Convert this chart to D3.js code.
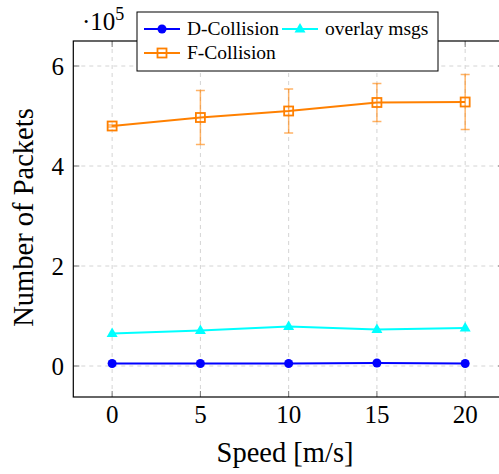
<!DOCTYPE html>
<html>
<head>
<meta charset="utf-8">
<script src="https://cdn.jsdelivr.net/npm/d3@7"></script>
<style>
  html, body { margin: 0; padding: 0; background: #fff; }
  svg { display: block; }
</style>
</head>
<body>
<svg id="chart" width="499" height="474"></svg>
<script>
// Speeds on the x axis
const speeds = [0, 5, 10, 15, 20];
// Packet counts per series
const dCollision = [5000, 5000, 5000, 6000, 5000];
const overlayMsgs = [65000, 71000, 79000, 73000, 76000];
const fCollision = [480000, 497000, 510000, 527000, 528000];
// Symmetric error (half-width) of the F-Collision measurements
const fCollisionErr = [2000, 54000, 44000, 38000, 55000];
// Axis ticks
const xTicks = [0, 5, 10, 15, 20];
const yTicks = [0, 200000, 400000, 600000];

const FONT = "'Liberation Serif', serif";
const svg = d3.select("#chart");
const margin = { left: 73.3, top: 41, bottom: 397, right: 504 };

const x = d3.scaleLinear().domain([-2.2, 22.2]).range([margin.left, margin.right]);
const y = d3.scaleLinear().domain([-62000, 650000]).range([margin.bottom, margin.top]);

// Grid
const grid = svg.append("g").attr("stroke", "#d4d4d4").attr("stroke-width", 1).attr("stroke-dasharray", "4,4");
grid.selectAll(".gx").data(xTicks).join("line")
  .attr("x1", d => x(d)).attr("x2", d => x(d))
  .attr("y1", margin.top).attr("y2", margin.bottom);
grid.selectAll(".gy").data(yTicks).join("line")
  .attr("y1", d => y(d)).attr("y2", d => y(d))
  .attr("x1", margin.left).attr("x2", margin.right);

// Inner tick marks on all four sides
const tickLen = 6;
const ticks = svg.append("g").attr("stroke", "#7a7a7a").attr("stroke-width", 1);
xTicks.forEach(t => {
  ticks.append("line").attr("x1", x(t)).attr("x2", x(t)).attr("y1", margin.bottom).attr("y2", margin.bottom - tickLen);
  ticks.append("line").attr("x1", x(t)).attr("x2", x(t)).attr("y1", margin.top).attr("y2", margin.top + tickLen);
});
yTicks.forEach(t => {
  ticks.append("line").attr("y1", y(t)).attr("y2", y(t)).attr("x1", margin.left).attr("x2", margin.left + tickLen);
  ticks.append("line").attr("y1", y(t)).attr("y2", y(t)).attr("x1", margin.right).attr("x2", margin.right - tickLen);
});

// Axes frame
svg.append("rect")
  .attr("x", margin.left).attr("y", margin.top)
  .attr("width", margin.right - margin.left).attr("height", margin.bottom - margin.top)
  .attr("fill", "none").attr("stroke", "#000").attr("stroke-width", 1.2);

// Tick labels
svg.append("g").selectAll("text").data(xTicks).join("text")
  .style("font-family", FONT)
  .attr("x", d => x(d)).attr("y", 423)
  .attr("text-anchor", "middle").attr("font-size", 25)
  .text(d => d);
svg.append("g").selectAll("text").data(yTicks).join("text")
  .style("font-family", FONT)
  .attr("x", 64).attr("y", d => y(d) + 8.5)
  .attr("text-anchor", "end").attr("font-size", 25)
  .text(d => d / 1e5);

// Scale factor label
const sf = svg.append("text").style("font-family", FONT).attr("x", 82).attr("y", 30).attr("font-size", 25);
sf.append("tspan").text("\u00b710");
sf.append("tspan").attr("dy", -10).attr("font-size", 18).text("5");

// Axis titles
svg.append("text").style("font-family", FONT).attr("x", 285).attr("y", 462)
  .attr("text-anchor", "middle").attr("font-size", 28.5)
  .text("Speed [m/s]");
svg.append("text").style("font-family", FONT)
  .attr("transform", "translate(33,217.5) rotate(-90)")
  .attr("text-anchor", "middle").attr("font-size", 28.5)
  .text("Number of Packets");

const line = d3.line().x((d, i) => x(speeds[i])).y(d => y(d));

// F-Collision error bars
const eb = svg.append("g").attr("stroke", "#ff8000").attr("stroke-opacity", 0.6).attr("stroke-width", 1.5);
fCollision.forEach((v, i) => {
  const cx = x(speeds[i]);
  const top = y(v + fCollisionErr[i]), bot = y(v - fCollisionErr[i]);
  eb.append("line").attr("x1", cx).attr("x2", cx).attr("y1", top).attr("y2", bot);
  eb.append("line").attr("x1", cx - 4.5).attr("x2", cx + 4.5).attr("y1", top).attr("y2", top);
  eb.append("line").attr("x1", cx - 4.5).attr("x2", cx + 4.5).attr("y1", bot).attr("y2", bot);
});

// Series lines
const series = [
  { name: "D-Collision", values: dCollision, color: "#0000ff", marker: "circle" },
  { name: "overlay msgs", values: overlayMsgs, color: "#00ffff", marker: "triangle" },
  { name: "F-Collision", values: fCollision, color: "#ff8000", marker: "square" }
];

function drawMarker(g, type, cx, cy, color) {
  if (type === "circle") {
    g.append("circle").attr("cx", cx).attr("cy", cy).attr("r", 4.5).attr("fill", color);
  } else if (type === "triangle") {
    g.append("path")
      .attr("d", `M${cx},${cy - 6}L${cx + 5.5},${cy + 3.5}L${cx - 5.5},${cy + 3.5}Z`)
      .attr("fill", color);
  } else {
    g.append("rect").attr("x", cx - 4.5).attr("y", cy - 4.5).attr("width", 9).attr("height", 9)
      .attr("fill", "none").attr("stroke", color).attr("stroke-width", 1.8);
  }
}

series.forEach(s => {
  svg.append("path").datum(s.values)
    .attr("d", line).attr("fill", "none")
    .attr("stroke", s.color).attr("stroke-width", 1.8);
  const g = svg.append("g");
  s.values.forEach((v, i) => drawMarker(g, s.marker, x(speeds[i]), y(v), s.color));
});

// Legend
const legend = svg.append("g");
legend.append("rect").attr("x", 137).attr("y", 12).attr("width", 301).attr("height", 59)
  .attr("fill", "#fff").attr("stroke", "#000").attr("stroke-width", 1);
const legendPos = [
  { lx: 144, ly: 29 },
  { lx: 282, ly: 29 },
  { lx: 144, ly: 53 }
];
series.forEach((s, i) => {
  const p = legendPos[i];
  legend.append("line").attr("x1", p.lx).attr("x2", p.lx + 36).attr("y1", p.ly).attr("y2", p.ly)
    .attr("stroke", s.color).attr("stroke-width", 1.8);
  drawMarker(legend, s.marker, p.lx + 18, p.ly, s.color);
  legend.append("text").style("font-family", FONT).attr("x", p.lx + 43).attr("y", p.ly + 6)
    .attr("font-size", 19.5).text(s.name);
});
</script>
</body>
</html>
